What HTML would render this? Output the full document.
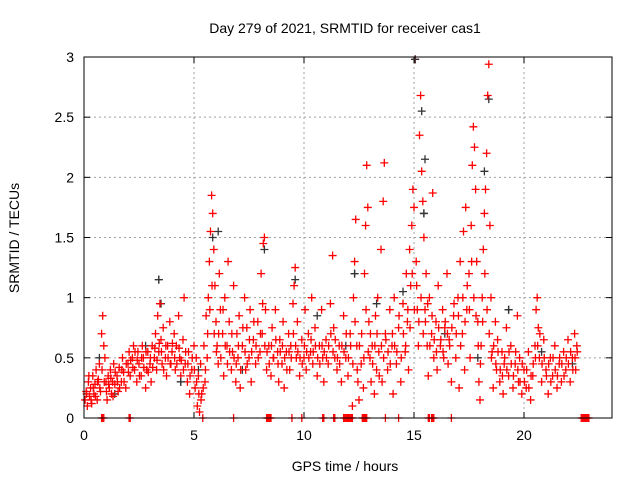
<!DOCTYPE html>
<html><head><meta charset="utf-8"><style>
body{margin:0;background:#fff;}
svg{display:block;font-family:"Liberation Sans",sans-serif;}
</style></head><body>
<svg id="chart" width="640" height="480">
<text x="345" y="33" text-anchor="middle" font-size="14">Day 279 of 2021, SRMTID for receiver cas1</text>
<text x="345" y="471" text-anchor="middle" font-size="14">GPS time / hours</text>
<text transform="translate(19,238) rotate(-90)" text-anchor="middle" font-size="14">SRMTID / TECUs</text>
<g id="grid"></g>
<g id="ticks"></g>
<g id="marks"></g>
<rect x="84" y="57" width="528" height="361" fill="none" stroke="#000" stroke-width="1"/>
</svg>
<script>
const xTicks=[0,5,10,15,20];
const yTicks=[0,0.5,1,1.5,2,2.5,3];
const yTickLabels=["0","0.5","1","1.5","2","2.5","3"];
const redX=[0.05,.1,.15,.2,.25,.3,.35,.4,.45,.5,.55,.6,.65,.7,.75,.8,.85,.9,.95,1.0,1.05,1.1,1.15,1.2,1.25,1.3,1.35,1.4,1.5,1.55,1.6,1.7,1.75,1.8,1.9,2.0,2.05,2.1,2.2,2.25,2.3,2.4,2.45,2.5,2.6,2.65,2.7,2.8,2.85,2.9,3.0,3.05,3.1,3.2,3.25,3.3,3.35,3.4,3.45,3.5,3.55,3.6,3.7,3.75,3.8,3.9,3.95,4.0,4.1,4.15,4.2,4.3,4.35,4.4,4.5,4.55,4.6,4.7,4.75,4.8,4.9,5.0,5.05,5.1,5.15,5.2,5.25,5.3,5.35,5.4,5.45,5.5,5.55,5.6,5.65,5.7,5.75,5.8,5.85,5.9,5.95,6.0,6.05,6.1,6.15,6.2,6.3,6.35,6.4,6.5,6.55,6.6,6.7,6.75,6.8,6.9,6.95,7.0,7.05,7.1,7.2,7.3,7.35,7.4,7.5,7.55,7.6,7.7,7.8,7.9,8.0,8.05,8.1,8.15,8.2,8.25,8.3,8.4,8.5,8.55,8.6,8.7,8.8,8.85,8.9,9.0,9.05,9.1,9.2,9.3,9.35,9.4,9.5,9.55,9.6,9.65,9.7,9.8,9.9,10.0,10.05,10.1,10.2,10.3,10.35,10.4,10.5,10.6,10.7,10.8,10.85,10.9,11.0,11.1,11.2,11.3,11.35,11.4,11.5,11.6,11.7,11.8,11.9,12.0,12.1,12.2,12.25,12.3,12.35,12.4,12.45,12.5,12.6,12.7,12.75,12.8,12.85,12.9,12.95,13.0,13.05,13.1,13.2,13.25,13.3,13.35,13.4,13.5,13.55,13.6,13.65,13.7,13.8,13.9,14.0,14.05,14.1,14.2,14.3,14.4,14.5,14.6,14.65,14.7,14.75,14.8,14.85,14.9,14.95,15.0,15.05,15.1,15.15,15.2,15.25,15.3,15.35,15.4,15.45,15.5,15.55,15.6,15.65,15.7,15.8,15.85,15.9,16.0,16.05,16.1,16.2,16.3,16.35,16.4,16.5,16.55,16.6,16.7,16.8,16.9,17.0,17.05,17.1,17.2,17.25,17.3,17.35,17.4,17.5,17.55,17.6,17.65,17.7,17.75,17.8,17.85,17.9,17.95,18.0,18.05,18.1,18.15,18.2,18.25,18.3,18.35,18.4,18.45,18.5,18.55,18.6,18.7,18.75,18.8,18.9,19.0,19.05,19.1,19.2,19.3,19.4,19.5,19.6,19.7,19.75,19.8,19.9,20.0,20.1,20.2,20.3,20.4,20.5,20.55,20.6,20.65,20.7,20.8,20.9,21.0,21.1,21.2,21.3,21.4,21.5,21.6,21.7,21.8,21.9,22.0,22.1,22.2,22.3,22.35,22.4];
const redY=[.15,.22,.1,.3,.18,.25,.12,.35,.2,.28,.4,.15,.32,.45,.22,.7,.85,.6,.5,.3,.15,.35,.25,.4,.2,.3,.45,.28,.35,.22,.42,.3,.5,.38,.25,.45,.55,.35,.5,.6,.4,.3,.55,.45,.35,.6,.5,.25,.4,.55,.45,.3,.6,.5,.7,.4,.85,.55,.95,.65,.45,.75,.5,.35,.6,.8,.45,.55,.7,.4,.6,.85,.5,.35,.65,1.0,.45,.3,.55,.2,.4,.6,.25,.5,.1,.35,.05,.45,.2,.0,.6,.3,.85,.5,1.0,1.3,1.55,1.85,1.7,1.4,1.1,.8,.6,.45,1.2,.9,.7,.35,1.0,.6,1.3,.8,.4,.55,1.1,.3,.7,.5,.85,.25,.6,1.0,.4,.75,.5,.9,.3,.65,.45,.8,.55,1.2,.7,1.45,1.5,.9,.4,.6,.35,.75,.5,.9,.55,.3,.65,.45,.8,.25,.55,.7,.4,.6,.95,1.1,1.25,.5,.8,.35,.65,.5,.9,.4,.7,.55,1.0,.45,.75,.35,.6,.9,.5,.3,.65,.45,.95,1.35,.75,.5,.4,.6,.3,.85,.5,.35,.7,.1,1.0,1.3,1.65,.6,.3,.15,.45,.25,1.2,1.6,2.1,1.75,.8,.5,.3,.6,.2,.85,.4,1.0,.55,1.4,.3,1.8,2.12,.7,.4,.9,.6,.2,1.0,.45,.75,.3,.95,.55,1.2,.8,.4,1.4,1.1,1.6,1.9,1.75,2.98,1.3,.9,.6,2.35,2.68,2.05,1.8,1.5,.9,1.2,.6,.35,1.0,.7,1.87,.5,.8,.4,1.1,.6,.9,.5,.75,1.2,.45,.65,.3,.85,.5,1.0,.25,1.3,.7,1.55,.4,1.75,.9,1.2,.5,1.6,2.1,2.42,2.25,1.9,1.3,.8,.3,.15,.6,1.0,1.4,1.7,1.9,2.2,2.68,2.94,1.6,1.0,.55,.25,.8,.4,.65,.3,.55,.2,.45,.75,.35,.6,.25,.45,.85,.3,.5,.2,.4,.25,.55,.15,.35,.6,.9,1.0,.75,.5,.3,.65,.4,.2,.5,.35,.6,.25,.45,.3,.55,.4,.65,.3,.5,.7,.4,.6];
const extraX=[.12,.22,.32,.42,.52,.62,.72,.82,.92,1.02,1.12,1.22,1.32,1.42,1.52,1.62,1.72,1.82,1.92,2.02,2.12,2.22,2.32,2.42,2.52,2.62,2.72,2.82,2.92,3.02,3.12,3.22,3.32,3.42,3.52,3.62,3.72,3.82,3.92,4.02,4.12,4.22,4.32,4.42,4.52,4.62,4.72,4.82,4.92,5.02,5.12,5.22,5.32,5.42,5.52,5.62,5.72,5.82,5.92,6.02,6.12,6.22,6.32,6.42,6.52,6.62,6.72,6.82,6.92,7.02,7.12,7.22,7.32,7.42,7.52,7.62,7.72,7.82,7.92,8.02,8.12,8.22,8.32,8.42,8.52,8.62,8.72,8.82,8.92,9.02,9.12,9.22,9.32,9.42,9.52,9.62,9.72,9.82,9.92,10.02,10.12,10.22,10.32,10.42,10.52,10.62,10.72,10.82,10.92,11.02,11.12,11.22,11.32,11.42,11.52,11.62,11.72,11.82,11.92,12.02,12.12,12.22,12.32,12.42,12.52,12.62,12.72,12.82,12.92,13.02,13.12,13.22,13.32,13.42,13.52,13.62,13.72,13.82,13.92,14.02,14.12,14.22,14.32,14.42,14.52,14.62,14.72,14.82,14.92,15.02,15.12,15.22,15.32,15.42,15.52,15.62,15.72,15.82,15.92,16.02,16.12,16.22,16.32,16.42,16.52,16.62,16.72,16.82,16.92,17.02,17.12,17.22,17.32,17.42,17.52,17.62,17.72,17.82,17.92,18.02,18.12,18.22,18.32,18.42,18.52,18.62,18.72,18.82,18.92,19.02,19.12,19.22,19.32,19.42,19.52,19.62,19.72,19.82,19.92,20.02,20.12,20.22,20.32,20.42,20.52,20.62,20.72,20.82,20.92,21.02,21.12,21.22,21.32,21.42,21.52,21.62,21.72,21.82,21.92,22.02,22.12,22.22,22.32,22.42];
const extraY=[.2,.35,.15,.25,.18,.3,.25,.4,.3,.22,.28,.33,.18,.38,.3,.25,.4,.3,.45,.38,.48,.42,.55,.48,.35,.5,.42,.55,.38,.5,.42,.58,.48,.62,.55,.4,.6,.5,.45,.62,.5,.45,.58,.48,.4,.55,.45,.35,.5,.4,.3,.2,.15,.25,.4,.7,.9,1.1,.7,.55,.7,.5,.9,.6,.45,.55,.7,.5,.45,.6,.4,.75,.55,.45,.65,.55,.8,.6,.5,.7,.95,.6,.55,.45,.6,.5,.65,.45,.55,.6,.5,.4,.55,.5,.7,.6,.55,.5,.45,.6,.55,.5,.65,.55,.6,.5,.45,.6,.55,.5,.6,.7,.55,.65,.5,.45,.6,.55,.7,.5,.6,.45,.8,.4,.6,.7,.5,.9,.55,.7,.45,.6,.7,.35,.6,.5,.65,.55,.45,.7,.6,.55,.85,.5,.7,.6,.9,.75,1.2,.9,1.1,.8,1.0,.7,.8,.95,.6,.85,.65,.55,.75,.65,.55,.8,.7,.6,.75,.95,.7,.85,.6,1.0,.8,1.1,.9,1.3,1.0,.85,.6,.45,.8,1.2,.9,.7,.5,.6,.45,.55,.4,.35,.5,.4,.55,.45,.35,.55,.4,.3,.45,.3,.4,.25,.35,.45,.5,.6,.7,.45,.5,.35,.45,.3,.5,.4,.35,.5,.45,.35,.5,.45,.55,.4,.5,.55];
const zeroX=[0.8,0.85,0.9,2.05,2.1,6.8,8.3,8.35,8.4,8.45,8.5,9.45,9.9,10.85,10.9,11.35,11.4,11.8,11.85,11.9,11.95,12.0,12.05,12.1,12.15,12.2,12.65,12.7,12.75,12.8,12.85,13.7,14.3,15.65,15.7,15.8,15.85,15.9,16.7,22.6,22.65,22.7,22.75,22.8,22.85,22.9,22.95];
const blackX=[3.4,3.5,5.85,6.1,12.3,15.05,15.35,15.5,15.45,18.4,18.2,8.2,9.6,14.5,19.3,4.4,5.2,10.6,13.3,16.4,17.9,20.8,22.2,1.4,0.7,11.9,7.2,2.8];
const blackY=[1.15,.95,1.5,1.55,1.2,2.98,2.55,2.15,1.7,2.65,2.05,1.4,1.15,1.05,.9,.3,.4,.85,.95,.7,.5,.55,.45,.2,.5,.6,.4,.6];
const NS="http://www.w3.org/2000/svg";
const L=84,R=612,T=57,B=418,XMAX=24,YMAX=3;
function sx(v){return L+(R-L)*v/XMAX;}
function sy(v){return B-(B-T)*v/YMAX;}
function mk(tag,attrs,parent){const e=document.createElementNS(NS,tag);for(const k in attrs)e.setAttribute(k,attrs[k]);parent.appendChild(e);return e;}
const grid=document.getElementById('grid'),ticks=document.getElementById('ticks'),marks=document.getElementById('marks');
xTicks.forEach(t=>{
  const x=sx(t);
  if(t>0){const g=mk('line',{x1:x,x2:x,y1:T,y2:B,stroke:'#a0a0a0','stroke-dasharray':'2,3'},grid);
  
  }
  mk('line',{x1:x,x2:x,y1:B,y2:B-6,stroke:'#000'},ticks);
  mk('line',{x1:x,x2:x,y1:T,y2:T+6,stroke:'#000'},ticks);
  const lb=mk('text',{x:x,y:B+22,'text-anchor':'middle','font-size':'14'},ticks);
  lb.textContent=t;
  
  
});
yTicks.forEach((t,i)=>{
  const y=sy(t);
  if(t>0&&t<YMAX){const g=mk('line',{x1:L,x2:R,y1:y,y2:y,stroke:'#a0a0a0','stroke-dasharray':'2,3'},grid);
  
  }
  mk('line',{x1:L,x2:L+6,y1:y,y2:y,stroke:'#000'},ticks);
  mk('line',{x1:R,x2:R-6,y1:y,y2:y,stroke:'#000'},ticks);
  const lb=mk('text',{x:L-10,y:y+5,'text-anchor':'end','font-size':'14'},ticks);
  lb.textContent=yTickLabels[i];
  
  
});
function plus(x,y,c,name){
  const p=mk('path',{d:`M${x-4},${y}h8M${x},${y-4}v8`,stroke:c,'stroke-width':1.3,fill:'none'},marks);
  
  
}
blackX.forEach((t,i)=>plus(sx(t),sy(blackY[i]),'#333','black-point'));
redX.forEach((t,i)=>plus(sx(t),sy(redY[i]),'#ff0000','red-point'));
extraX.forEach((t,i)=>plus(sx(t),sy(extraY[i]),'#ff0000','red-point'));
zeroX.forEach(t=>plus(sx(t),sy(0),'#ff0000','red-zero-point'));
[0,4,5,8,14,15].forEach(i=>plus(sx(blackX[i]),sy(blackY[i]),'#333','black-point'));
</script>
</body></html>
